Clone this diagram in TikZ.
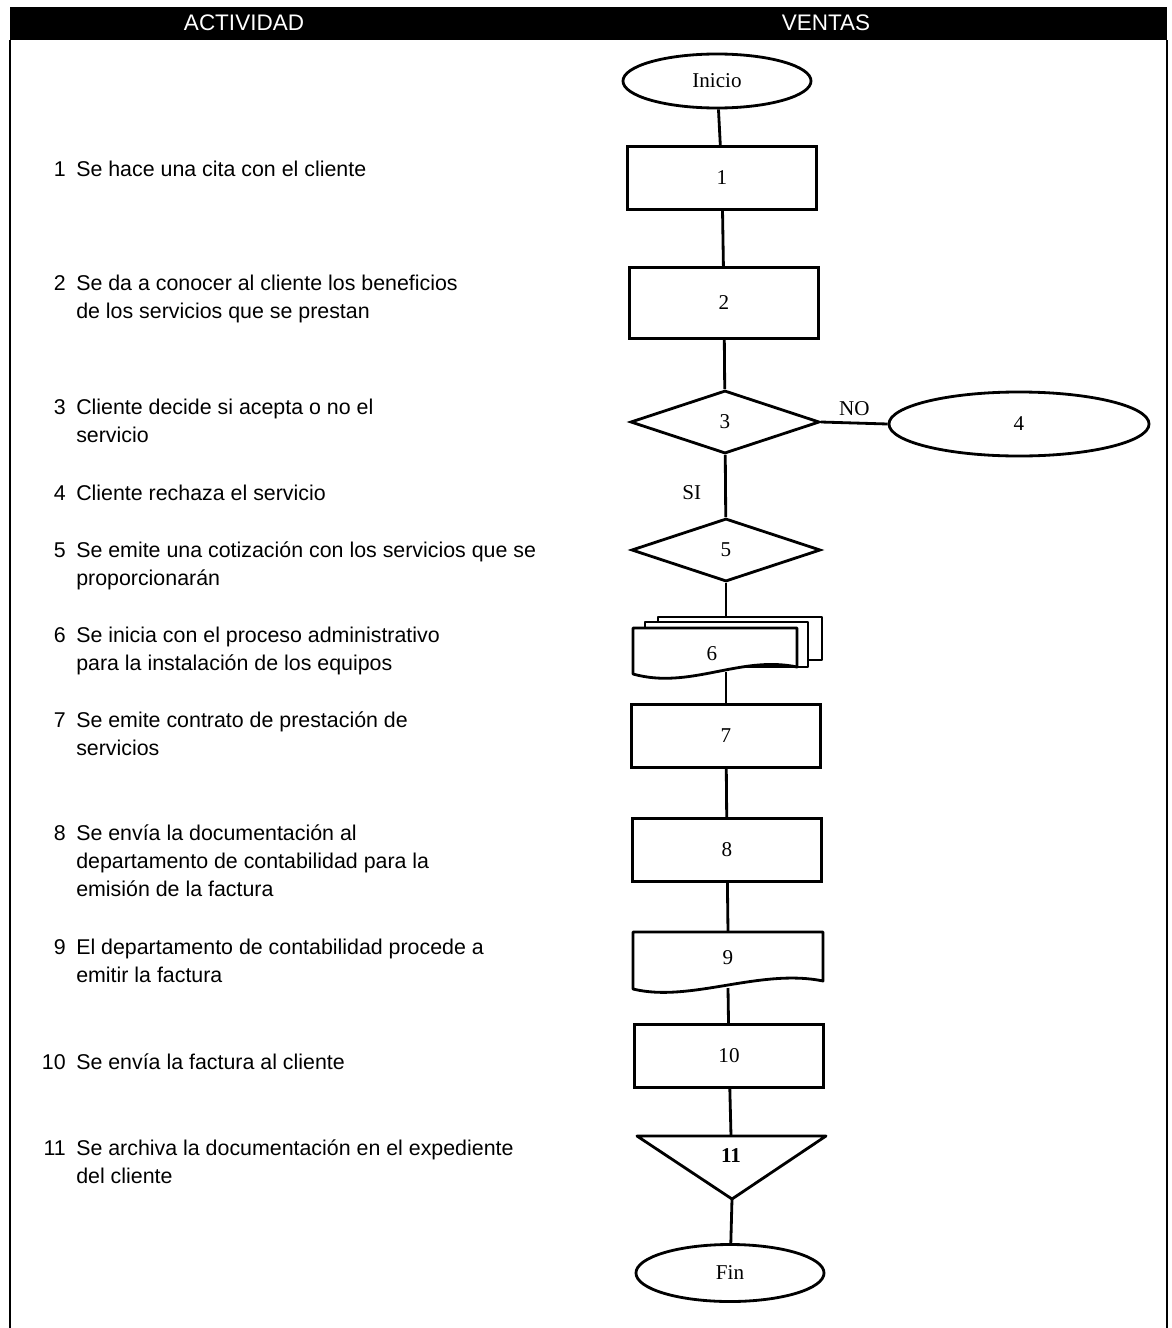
\documentclass[tikz,border=0pt]{standalone}
\usepackage{fontspec}
\setmainfont{Liberation Serif}
\setsansfont{Liberation Sans}
\usetikzlibrary{shapes.geometric}

\tikzset{
  flow/.style={draw=black, line width=2pt, fill=white, inner sep=0pt, font=\fontsize{15}{18}\selectfont},
  proc/.style={flow, rectangle, minimum width=4.725cm, minimum height=1.575cm},
  decision/.style={flow, diamond, minimum width=4.725cm, minimum height=1.575cm},
  terminal/.style={flow, ellipse, minimum width=4.7cm, minimum height=1.35cm},
  link/.style={line width=2pt},
  paper/.style={draw=black, line width=2pt, fill=white, line join=round},
  activity/.style={anchor=north west, align=left, inner sep=0pt, font=\sffamily\fontsize{15.2}{19.9}\selectfont},
  actnum/.style={anchor=north east, inner sep=0pt, font=\sffamily\fontsize{15.2}{19.9}\selectfont},
  head/.style={text=white, inner sep=0pt, font=\sffamily\fontsize{16}{18}\selectfont},
}

\begin{document}
\begin{tikzpicture}[x=0.025cm, y=-0.025cm]
\useasboundingbox (0,0) rectangle (1171,1328);

% Frame and header bar
\fill[black] (10,7) rectangle (1167,40);
\draw[line width=1.2pt] (10,40) -- (10,1328);
\draw[line width=1.2pt] (1167,40) -- (1167,1328);
\node[head] (hact) at (244,23) {ACTIVIDAD};
\node[head] (hven) at (826,23) {VENTAS};

% Activity list (y = top of the strut of the first line)
\foreach \n/\y/\txt in {
    1/157/{Se hace una cita con el cliente},
    2/271/{Se da a conocer al cliente los beneficios\\de los servicios que se prestan},
    3/395/{Cliente decide si acepta o no el\\servicio},
    4/481/{Cliente rechaza el servicio},
    5/538/{Se emite una cotización con los servicios que se\\proporcionarán},
    6/623/{Se inicia con el proceso administrativo\\para la instalación de los equipos},
    7/708/{Se emite contrato de prestación de\\servicios},
    8/821/{Se envía la documentación al\\departamento de contabilidad para la\\emisión de la factura},
    9/935/{El departamento de contabilidad procede a\\emitir la factura},
    10/1050/{Se envía la factura al cliente},
    11/1136/{Se archiva la documentación en el expediente\\del cliente}} {
    \node[actnum] (num\n) at (66,\y) {\strut\n};
    \node[activity] (act\n) at (76,\y) {\strut\txt};
}

% Flow column
\node[terminal] (ini) at (717,81) {Inicio};
\node[proc] (b1) at (722,178) {1};
\node[proc, minimum height=1.775cm] (b2) at (724,303) {2};
\node[decision] (d3) at (725,422) {3};
\node[terminal, minimum width=6.5cm, minimum height=1.6cm] (e4) at (1019,424) {4};
\node[decision] (d5) at (726,550) {5};

% multiple document 6
\draw[paper] (658,617) rectangle (822,660);
\draw[paper] (645,622) rectangle (808,667);
\draw[paper] (633,628) -- (797,628) -- (797,667)
    .. controls (740,655) and (690,690) .. (633,674) -- cycle;
\node[inner sep=0pt, font=\fontsize{15}{18}\selectfont] (doc6) at (712,654) {6};
\coordinate (d6top) at (726,617);
\coordinate (d6bot) at (726,672);

\node[proc] (b7) at (726,736) {7};
\node[proc] (b8) at (727,850) {8};

% document 9
\draw[paper] (633,932) -- (823,932) -- (823,981)
    .. controls (760,968) and (690,1003) .. (633,989) -- cycle;
\node[inner sep=0pt, font=\fontsize{15}{18}\selectfont] (doc9) at (728,958) {9};
\coordinate (d9top) at (728,932);
\coordinate (d9bot) at (728,988);

\node[proc] (b10) at (729,1056) {10};

% archive 11
\draw[paper] (637,1136) -- (826,1136) -- (732,1199) -- cycle;
\node[inner sep=0pt, font=\bfseries\fontsize{15}{18}\selectfont] (t11) at (731,1156) {11};
\coordinate (t11top) at (731,1136);
\coordinate (t11tip) at (732,1199);

\node[terminal, minimum height=1.425cm] (fin) at (730,1273) {Fin};

% Connectors
\draw[link] (ini) -- (b1);
\draw[link] (b1) -- (b2);
\draw[link] (b2) -- (d3);
\draw[link] (d3.east) -- (e4.west) node[midway, above=1pt, font=\fontsize{15}{18}\selectfont] {NO};
\draw[link] (d3) -- (d5) node[pos=0.6, left=13pt, font=\fontsize{15}{18}\selectfont] {SI};
\draw[link] (d5) -- (d6top);
\draw[link] (d6bot) -- (b7);
\draw[link] (b7) -- (b8);
\draw[link] (b8) -- (d9top);
\draw[link] (d9bot) -- (b10);
\draw[link] (b10) -- (t11top);
\draw[link] (t11tip) -- (fin);
\end{tikzpicture}
\end{document}
